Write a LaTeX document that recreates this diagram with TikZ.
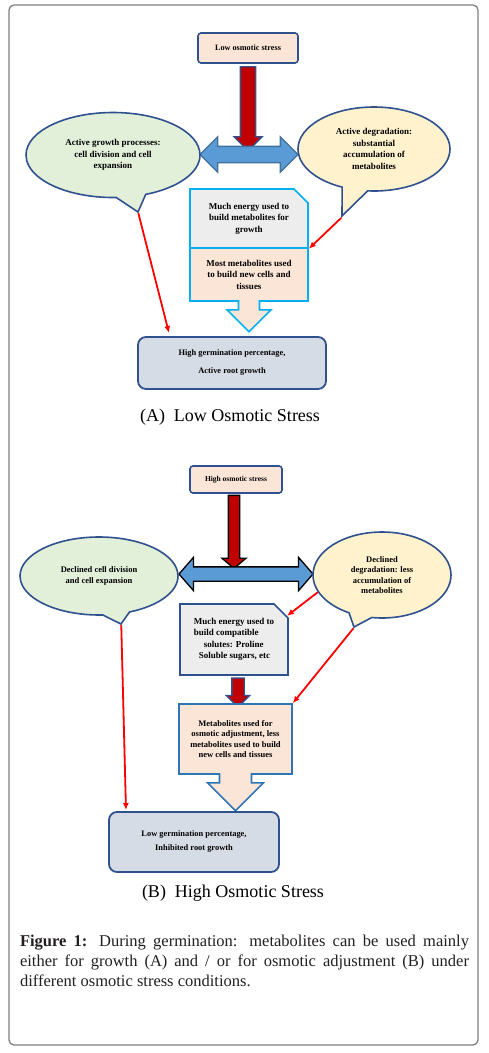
\documentclass[tikz,border=0pt]{standalone}
\usepackage{fontspec}
\setmainfont{Liberation Serif}
\usetikzlibrary{arrows.meta,shapes.callouts,shapes.arrows,shapes.misc}
\definecolor{peach}{HTML}{FBE5D6}
\definecolor{edgeblue}{HTML}{2F528F}
\definecolor{midblue}{HTML}{2E75B6}
\definecolor{cyanedge}{HTML}{00B0F0}
\definecolor{growgreen}{HTML}{E2EFD9}
\definecolor{degyellow}{HTML}{FFF2CC}
\definecolor{boxgray}{HTML}{EDEDED}
\definecolor{resgray}{HTML}{D6DCE5}
\definecolor{swapblue}{HTML}{5B9BD5}
\definecolor{swapedge}{HTML}{41719C}
\definecolor{stressred}{HTML}{C00000}
\definecolor{linkred}{HTML}{FF0000}
\definecolor{framegray}{HTML}{7F7F7F}
\definecolor{captext}{HTML}{231F20}

\begin{document}
\begin{tikzpicture}[x=1pt, y=-1pt, every node/.style={font=\bfseries\fontsize{9}{11.5}\selectfont, align=center, inner sep=0pt}, stressbox/.style={draw=edgeblue, fill=peach, line width=1.6pt, rounded corners=3pt, font=\bfseries\fontsize{8.2}{10}\selectfont}, bubble/.style={ellipse callout, draw=edgeblue, line width=1.6pt, callout pointer arc=20}, bigdown/.style={single arrow, rotate=-90, draw=edgeblue, fill=stressred, line width=1.3pt, inner xsep=0pt}, swap/.style={double arrow, fill=swapblue, line width=1.3pt, inner xsep=0pt}, infobox/.style={chamfered rectangle, chamfered rectangle corners=north east, chamfered rectangle xsep=7pt, chamfered rectangle ysep=7pt, fill=boxgray, line width=1.6pt}, usebox/.style={arrow box, fill=peach, line width=1.6pt, arrow box tip angle=90, arrow box head indent=0pt}, resultbox/.style={draw=edgeblue, fill=resgray, rounded corners=8pt, line width=1.8pt, font=\bfseries\fontsize{8.4}{10}\selectfont}, redlink/.style={draw=linkred, line width=1.8pt, -{Latex[length=7pt,width=6pt]}}, caption/.style={font=\fontsize{18}{20}\selectfont}]
\useasboundingbox (0,0) rectangle (489,1053);
\draw[framegray, line width=1.3pt, rounded corners=5pt] (9,5) rectangle (478,1045);

\node[stressbox, minimum width=100pt, minimum height=30pt] (lowstress) at (248,48) {Low osmotic stress};
\node[bigdown, minimum height=84pt, inner ysep=7pt, single arrow head extend=6.5pt] (downA) at (248,105) {};
\node[swap, draw=swapedge, minimum height=98pt, inner ysep=7.5pt, double arrow head extend=9.5pt] (swapA) at (249,154.5) {};
\node[bubble, fill=growgreen, minimum width=174pt, minimum height=85pt, callout absolute pointer={(138,212)}] (growA) at (113,155) {Active growth processes:\\cell division and cell\\expansion};
\node[bubble, fill=degyellow, minimum width=152pt, minimum height=84pt, callout absolute pointer={(342,216)}] (degA) at (374,149) {Active degradation:\\substantial\\accumulation of\\metabolites};
\node[infobox, draw=cyanedge, minimum width=118pt, minimum height=59pt] (buildA) at (249,218.5) {Much energy used to\\build metabolites for\\growth};
\node[usebox, draw=cyanedge, minimum width=118pt, minimum height=53pt, arrow box arrows={south:30pt}, arrow box shaft width=21pt, arrow box head extend=11.5pt] (useA) at (249,274.5) {Most metabolites used\\to build new cells and\\tissues};
\node[resultbox, minimum width=188pt, minimum height=52pt] (resA) at (232,363) {High germination percentage,\\[8pt]Active root growth};
\node[caption] (capA) at (230,417) {(A)\ \ Low Osmotic Stress};
\coordinate (resAin) at (169,333);
\draw[redlink] (growA.pointer) -- (resAin);
\draw[redlink] (degA.pointer) -- (buildA.south east);

\node[stressbox, minimum width=92pt, minimum height=27pt, font=\bfseries\fontsize{7.5}{9}\selectfont] (highstress) at (236,479.5) {High osmotic stress};
\node[bigdown, draw=black, minimum height=73pt, inner ysep=5pt, single arrow head extend=6.5pt, single arrow tip angle=100] (downB) at (234,529.5) {};
\node[swap, draw=black, minimum height=134pt, inner ysep=6.5pt, double arrow head extend=9.5pt, double arrow tip angle=98] (swapB) at (246,574) {};
\node[bubble, fill=growgreen, minimum width=158pt, minimum height=78pt, callout absolute pointer={(121,624)}, font=\bfseries\fontsize{8.5}{10.7}\selectfont] (growB) at (99,576) {Declined cell division\\and cell expansion};
\node[bubble, fill=degyellow, minimum width=138pt, minimum height=86pt, callout absolute pointer={(354,627)}, font=\bfseries\fontsize{8.5}{10.5}\selectfont] (degB) at (382,575) {Declined\\degradation: less\\accumulation of\\metabolites};
\node[infobox, draw=edgeblue, minimum width=108pt, minimum height=71pt, align=left] (solB) at (234,639.5) {Much energy used to\\build compatible\\\hspace*{10pt}solutes: Proline\\\hspace*{5pt}Soluble sugars, etc};
\node[bigdown, minimum height=29pt, inner ysep=5.5pt, single arrow head extend=5.5pt] (downB2) at (238,689.5) {};
\node[usebox, draw=midblue, minimum width=113pt, minimum height=70pt, arrow box arrows={south:36pt}, arrow box shaft width=32pt, arrow box head extend=12pt, font=\bfseries\fontsize{8.5}{10.5}\selectfont] (adjB) at (235.5,739) {Metabolites used for\\osmotic adjustment, less\\metabolites used to build\\new cells and tissues};
\node[resultbox, minimum width=170pt, minimum height=60pt] (resB) at (194,842) {Low germination percentage,\\[4pt]Inhibited root growth};
\node[caption] (capB) at (233,893) {(B)\ \ High Osmotic Stress};
\coordinate (resBin) at (126,810);
\draw[redlink] (growB.pointer) -- (resBin);
\draw[redlink] (degB.195) -- (solB.24);
\draw[redlink] (degB.pointer) -- (adjB.north east);

\node[font=\fontsize{16.5}{20}\selectfont, text width=449pt, align=justify, text=captext] (figcap) at (244.5,961) {\textbf{Figure 1:} During germination: metabolites can be used mainly\linebreak either for growth (A) and / or for osmotic adjustment (B) under\linebreak different osmotic stress conditions.};
\end{tikzpicture}
\end{document}
